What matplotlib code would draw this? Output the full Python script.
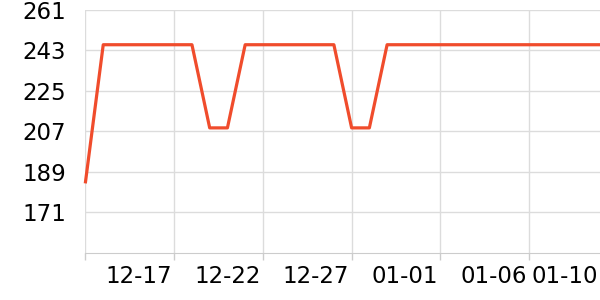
import matplotlib
matplotlib.use('Agg')
import matplotlib.pyplot as plt

# daily values, 12-14 .. 01-12
dates = ['12-14', '12-15', '12-16', '12-17', '12-18', '12-19', '12-20', '12-21',
         '12-22', '12-23', '12-24', '12-25', '12-26', '12-27', '12-28', '12-29',
         '12-30', '12-31', '01-01', '01-02', '01-03', '01-04', '01-05', '01-06',
         '01-07', '01-08', '01-09', '01-10', '01-11', '01-12']
values = [184.5, 245.5, 245.5, 245.5, 245.5, 245.5, 245.5, 208.5, 208.5, 245.5,
          245.5, 245.5, 245.5, 245.5, 245.5, 208.5, 208.5, 245.5, 245.5, 245.5,
          245.5, 245.5, 245.5, 245.5, 245.5, 245.5, 245.5, 245.5, 245.5, 245.5]

y_ticks = [171, 189, 207, 225, 243, 261]
label_dates = ['12-17', '12-22', '12-27', '01-01', '01-06', '01-10']
grid_idx = [0, 5, 10, 15, 20, 25]

x = list(range(len(values)))

fig = plt.figure(figsize=(6, 3), dpi=100)
ax = fig.add_axes([0.1425, 0.158, 0.8575, 0.809])

ax.plot(x, values, color='#f04c2c', linewidth=2.3, zorder=3, clip_on=False)

ax.set_xlim(0, len(values) - 1)
ax.set_ylim(153, 261)

# grid lines
for gy in y_ticks:
    ax.axhline(gy, color='#dcdcdc', linewidth=1, zorder=1)
for gx in grid_idx:
    ax.axvline(gx, color='#dcdcdc', linewidth=1, zorder=1)

ax.set_yticks(y_ticks)
ax.set_yticklabels([str(v) for v in y_ticks])
ax.tick_params(axis='y', length=0, pad=14, labelsize=16.5, labelcolor='black')

# tick marks at grid positions, labels at their own dates
ax.set_xticks(grid_idx)
ax.set_xticklabels([''] * len(grid_idx))
ax.tick_params(axis='x', length=5, color='#cccccc', width=1)
for d in label_dates:
    ax.text(dates.index(d), -0.052, d, transform=ax.get_xaxis_transform(),
            ha='center', va='top', fontsize=16.5, color='black')

for s in ['top', 'right', 'left']:
    ax.spines[s].set_visible(False)
ax.spines['bottom'].set_color('#cccccc')

fig.savefig('out.png', dpi=100)
